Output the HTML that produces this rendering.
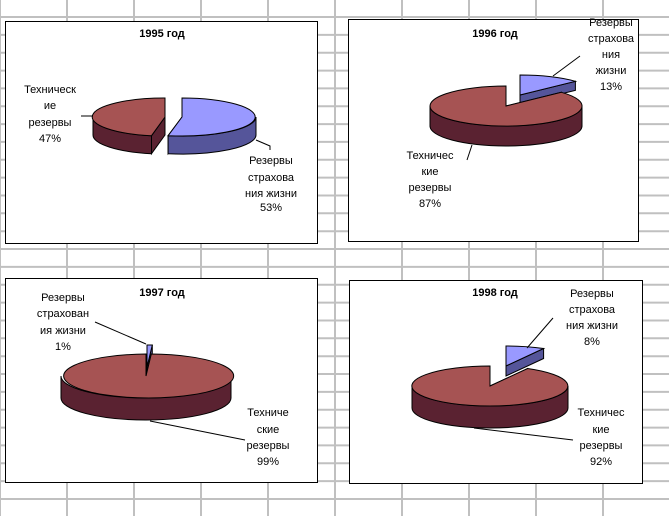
<!DOCTYPE html>
<html><head><meta charset="utf-8"><style>
html,body{margin:0;padding:0;background:#fff}
svg{display:block}
text{font-family:"Liberation Sans","DejaVu Sans",sans-serif;font-size:11px;fill:#000}
.t{font-weight:bold}
</style></head><body>
<svg id="s" width="669" height="516" viewBox="0 0 669 516" xmlns="http://www.w3.org/2000/svg">
<g id="grid" stroke="#c0c0c0" stroke-width="2"></g>
<g fill="#fff" stroke="#000" stroke-width="1">
<rect x="5.5" y="21.5" width="312" height="222"/>
<rect x="348.5" y="19.5" width="290" height="222"/>
<rect x="5.5" y="278.5" width="312" height="204"/>
<rect x="349.5" y="280.5" width="293" height="203"/>
</g>
<g id="pies" stroke="#000" stroke-width="1"></g>
<g stroke="#000" stroke-width="1" fill="none">
<path d="M81 116H93"/><path d="M256 140L270 146V150"/>
<path d="M95 322L146 344"/><path d="M150 421L245 440"/>
<path d="M553 318L527 348"/><path d="M474 428L573 440"/>
<path d="M580 56L553 76"/><path d="M472 145L467 160"/>
</g>
<g text-anchor="middle">
<text class="t" x="162" y="37">1995 год</text>
<text x="50" y="93">Техническ</text><text x="50" y="109">ие</text><text x="50" y="126">резервы</text><text x="50" y="142">47%</text>
<text x="271" y="164">Резервы</text><text x="271" y="181">страхова</text><text x="271" y="197">ния жизни</text><text x="271" y="211">53%</text>
<text class="t" x="495" y="37">1996 год</text>
<text x="611" y="26">Резервы</text><text x="611" y="42">страхова</text><text x="611" y="58">ния</text><text x="611" y="74">жизни</text><text x="611" y="90">13%</text>
<text x="430" y="159">Техничес</text><text x="430" y="175">кие</text><text x="430" y="191">резервы</text><text x="430" y="207">87%</text>
<text class="t" x="162" y="296">1997 год</text>
<text x="63" y="301">Резервы</text><text x="63" y="317">страхован</text><text x="63" y="334">ия жизни</text><text x="63" y="350">1%</text>
<text x="268" y="416">Техниче</text><text x="268" y="433">ские</text><text x="268" y="449">резервы</text><text x="268" y="465">99%</text>
<text class="t" x="495" y="296">1998 год</text>
<text x="592" y="297">Резервы</text><text x="592" y="313">страхова</text><text x="592" y="329">ния жизни</text><text x="592" y="345">8%</text>
<text x="601" y="416">Техничес</text><text x="601" y="433">кие</text><text x="601" y="449">резервы</text><text x="601" y="465">92%</text>
</g>
</svg>
<script>
var g=document.getElementById('grid'),h='';
for(var x=0;x<=669;x+=67)h+='<path d="M'+x+' 0V516"/>';
for(var y=17;y<=516;y+=17.85)h+='<path d="M0 '+y.toFixed(1)+'H669"/>';
g.innerHTML=h;
var RT='#a65353',RS='#5a2231',BT='#9999ff',BS='#55559a';
function P(cx,cy,rx,ry,a){a=a*Math.PI/180;return [cx+rx*Math.sin(a),cy-ry*Math.cos(a)];}
function f(p){return p[0].toFixed(1)+' '+p[1].toFixed(1);}
function slice(cx,cy,rx,ry,d,a0,a1,top,side){
 var o='';
 [a0,a1].forEach(function(a){var p=P(cx,cy,rx,ry,a);
  o+='<path fill="'+side+'" d="M'+cx+' '+cy+'L'+f(p)+'L'+p[0].toFixed(1)+' '+(p[1]+d).toFixed(1)+'L'+cx+' '+(cy+d)+'Z"/>';});
 var s=Math.max(a0,90),e=Math.min(a1,270);
 if(e>s){var ps=P(cx,cy,rx,ry,s),pe=P(cx,cy,rx,ry,e);
  o+='<path fill="'+side+'" d="M'+f(ps)+'A'+rx+' '+ry+' 0 0 1 '+f(pe)+'L'+pe[0].toFixed(1)+' '+(pe[1]+d).toFixed(1)+'A'+rx+' '+ry+' 0 0 0 '+ps[0].toFixed(1)+' '+(ps[1]+d).toFixed(1)+'Z"/>';}
 var p0=P(cx,cy,rx,ry,a0),p1=P(cx,cy,rx,ry,a1);
 o+='<path fill="'+top+'" d="M'+cx+' '+cy+'L'+f(p0)+'A'+rx+' '+ry+' 0 '+((a1-a0)>180?1:0)+' 1 '+f(p1)+'Z"/>';
 return o;}
var o='';
o+=slice(165,117,72,19,18,190.8,360,RT,RS);
o+=slice(182,117,74,19,18,0,190.8,BT,BS);
o+=slice(520,95,76,20,9,0,46.8,BT,BS);
o+=slice(506,106,76,20,20,46.8,360,RT,RS);
o+=slice(147,367,85,22,8,0,3.6,BT,BS);
o+=slice(146,376,85,22,22,3.6,360,RT,RS);
o+=slice(506,366,78,20,10,0,28.8,BT,BS);
o+=slice(490,386,78,20,22,28.8,360,RT,RS);
document.getElementById('pies').innerHTML=o;
</script>
</body></html>
